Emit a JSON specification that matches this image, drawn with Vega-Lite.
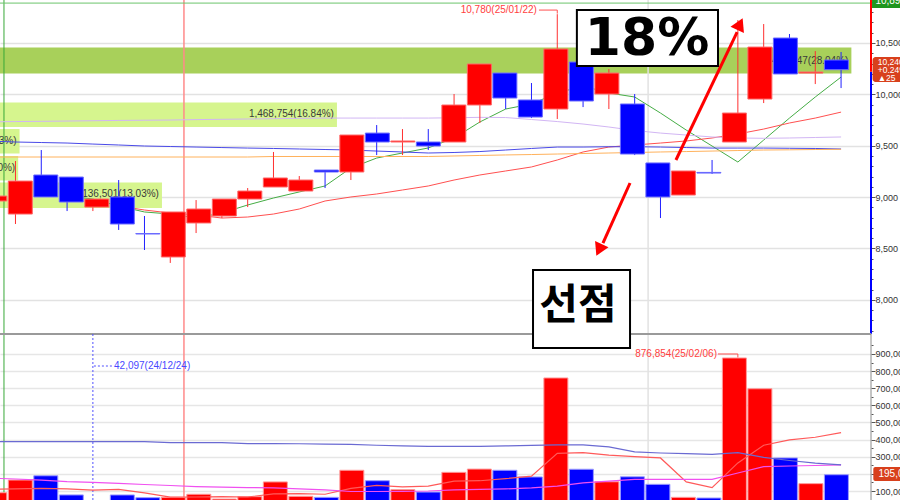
{
"$schema": "https://vega.github.io/schema/vega-lite/v6.json",
"width": 871, "height": 500,
"autosize": "none",
"padding": {"left": 0, "top": 0, "right": 29, "bottom": 0},
"background": "white",
"config": {"view": {"stroke": null}, "font": "Liberation Sans"},
"datasets": {
"candles": [
{"i":0,"o":8962,"h":9010,"l":8962,"c":9010,"v":90000},
{"i":1,"o":8835,"h":9351,"l":8738,"c":9156,"v":164000},
{"i":2,"o":9215,"h":9458,"l":9001,"c":9001,"v":189000},
{"i":3,"o":9195,"h":9195,"l":8864,"c":8952,"v":77000},
{"i":4,"o":8903,"h":8981,"l":8864,"c":8981,"v":42097},
{"i":5,"o":9001,"h":9166,"l":8680,"c":8738,"v":77000},
{"i":6,"o":8645,"h":8816,"l":8485,"c":8641,"v":61000},
{"i":7,"o":8417,"h":8855,"l":8359,"c":8855,"v":63000},
{"i":8,"o":8748,"h":8971,"l":8650,"c":8884,"v":81000},
{"i":9,"o":8816,"h":8981,"l":8796,"c":8981,"v":53000},
{"i":10,"o":8981,"h":9088,"l":8903,"c":9059,"v":67000},
{"i":11,"o":9098,"h":9439,"l":9098,"c":9186,"v":153000},
{"i":12,"o":9059,"h":9205,"l":9059,"c":9166,"v":69000},
{"i":13,"o":9263,"h":9263,"l":9088,"c":9244,"v":63000},
{"i":14,"o":9244,"h":9604,"l":9166,"c":9604,"v":221000},
{"i":15,"o":9623,"h":9701,"l":9409,"c":9536,"v":160000},
{"i":16,"o":9536,"h":9662,"l":9409,"c":9546,"v":108000},
{"i":17,"o":9536,"h":9662,"l":9458,"c":9497,"v":94000},
{"i":18,"o":9536,"h":10003,"l":9536,"c":9896,"v":209000},
{"i":19,"o":9896,"h":10295,"l":9721,"c":10295,"v":228000},
{"i":20,"o":10207,"h":10207,"l":9857,"c":9964,"v":221000},
{"i":21,"o":9945,"h":10110,"l":9769,"c":9779,"v":182000},
{"i":22,"o":9857,"h":10780,"l":9760,"c":10441,"v":760000},
{"i":23,"o":10314,"h":10360,"l":9876,"c":9935,"v":227000},
{"i":24,"o":10003,"h":10246,"l":9857,"c":10207,"v":154000},
{"i":25,"o":9906,"h":10003,"l":9409,"c":9419,"v":183000},
{"i":26,"o":9332,"h":9332,"l":8796,"c":9001,"v":139000},
{"i":27,"o":9020,"h":9254,"l":9020,"c":9254,"v":63000},
{"i":28,"o":9240,"h":9361,"l":9225,"c":9234,"v":59000},
{"i":29,"o":9536,"h":10723,"l":9536,"c":9818,"v":876854},
{"i":30,"o":9954,"h":10684,"l":9915,"c":10460,"v":697000},
{"i":31,"o":10548,"h":10587,"l":10198,"c":10198,"v":293000},
{"i":32,"o":10207,"h":10421,"l":10100,"c":10217,"v":143000},
{"i":33,"o":10334,"h":10412,"l":10061,"c":10240,"v":195000}
],
"pma": [
{"i":3,"s":"ma5","p":9010},{"i":4,"s":"ma5","p":8981},{"i":5,"s":"ma5","p":8913},{"i":6,"s":"ma5","p":8855},{"i":7,"s":"ma5","p":8835},{"i":8,"s":"ma5","p":8796},{"i":9,"s":"ma5","p":8845},{"i":10,"s":"ma5","p":8923},{"i":11,"s":"ma5","p":8991},{"i":12,"s":"ma5","p":9050},{"i":13,"s":"ma5","p":9108},{"i":14,"s":"ma5","p":9283},{"i":15,"s":"ma5","p":9380},{"i":16,"s":"ma5","p":9429},{"i":17,"s":"ma5","p":9478},{"i":18,"s":"ma5","p":9575},{"i":19,"s":"ma5","p":9731},{"i":20,"s":"ma5","p":9857},{"i":21,"s":"ma5","p":9906},{"i":22,"s":"ma5","p":10013},{"i":23,"s":"ma5","p":10081},{"i":24,"s":"ma5","p":10013},{"i":25,"s":"ma5","p":9974},{"i":26,"s":"ma5","p":9818},{"i":27,"s":"ma5","p":9652},{"i":28,"s":"ma5","p":9497},{"i":29,"s":"ma5","p":9341},{"i":30,"s":"ma5","p":9555},{"i":31,"s":"ma5","p":9769},{"i":32,"s":"ma5","p":9974},{"i":33,"s":"ma5","p":10168},
{"i":5,"s":"ma20","p":8913},{"i":6,"s":"ma20","p":8874},{"i":7,"s":"ma20","p":8845},{"i":8,"s":"ma20","p":8826},{"i":9,"s":"ma20","p":8796},{"i":10,"s":"ma20","p":8806},{"i":11,"s":"ma20","p":8835},{"i":12,"s":"ma20","p":8884},{"i":13,"s":"ma20","p":8962},{"i":14,"s":"ma20","p":9001},{"i":15,"s":"ma20","p":9030},{"i":16,"s":"ma20","p":9069},{"i":17,"s":"ma20","p":9108},{"i":18,"s":"ma20","p":9166},{"i":19,"s":"ma20","p":9215},{"i":20,"s":"ma20","p":9254},{"i":21,"s":"ma20","p":9293},{"i":22,"s":"ma20","p":9361},{"i":23,"s":"ma20","p":9439},{"i":24,"s":"ma20","p":9487},{"i":25,"s":"ma20","p":9507},{"i":26,"s":"ma20","p":9526},{"i":27,"s":"ma20","p":9546},{"i":28,"s":"ma20","p":9575},{"i":29,"s":"ma20","p":9614},{"i":30,"s":"ma20","p":9662},{"i":31,"s":"ma20","p":9721},{"i":32,"s":"ma20","p":9769},{"i":33,"s":"ma20","p":9827},
{"i":0,"s":"ma60","p":9732},{"i":1,"s":"ma60","p":9735},{"i":2,"s":"ma60","p":9737},{"i":3,"s":"ma60","p":9740},{"i":4,"s":"ma60","p":9743},{"i":5,"s":"ma60","p":9746},{"i":6,"s":"ma60","p":9748},{"i":7,"s":"ma60","p":9750},{"i":8,"s":"ma60","p":9754},{"i":9,"s":"ma60","p":9757},{"i":10,"s":"ma60","p":9760},{"i":11,"s":"ma60","p":9763},{"i":12,"s":"ma60","p":9766},{"i":13,"s":"ma60","p":9769},{"i":14,"s":"ma60","p":9769},{"i":15,"s":"ma60","p":9769},{"i":16,"s":"ma60","p":9769},{"i":17,"s":"ma60","p":9769},{"i":18,"s":"ma60","p":9772},{"i":19,"s":"ma60","p":9776},{"i":20,"s":"ma60","p":9774},{"i":21,"s":"ma60","p":9755},{"i":22,"s":"ma60","p":9735},{"i":23,"s":"ma60","p":9711},{"i":24,"s":"ma60","p":9682},{"i":25,"s":"ma60","p":9648},{"i":26,"s":"ma60","p":9623},{"i":27,"s":"ma60","p":9604},{"i":28,"s":"ma60","p":9585},{"i":29,"s":"ma60","p":9575},{"i":30,"s":"ma60","p":9572},{"i":31,"s":"ma60","p":9575},{"i":32,"s":"ma60","p":9580},{"i":33,"s":"ma60","p":9585},
{"i":0,"s":"ma120","p":9545},{"i":1,"s":"ma120","p":9536},{"i":2,"s":"ma120","p":9531},{"i":3,"s":"ma120","p":9526},{"i":4,"s":"ma120","p":9516},{"i":5,"s":"ma120","p":9507},{"i":6,"s":"ma120","p":9497},{"i":7,"s":"ma120","p":9492},{"i":8,"s":"ma120","p":9487},{"i":9,"s":"ma120","p":9482},{"i":10,"s":"ma120","p":9477},{"i":11,"s":"ma120","p":9473},{"i":12,"s":"ma120","p":9468},{"i":13,"s":"ma120","p":9463},{"i":14,"s":"ma120","p":9458},{"i":15,"s":"ma120","p":9448},{"i":16,"s":"ma120","p":9439},{"i":17,"s":"ma120","p":9429},{"i":18,"s":"ma120","p":9434},{"i":19,"s":"ma120","p":9443},{"i":20,"s":"ma120","p":9458},{"i":21,"s":"ma120","p":9473},{"i":22,"s":"ma120","p":9487},{"i":23,"s":"ma120","p":9487},{"i":24,"s":"ma120","p":9490},{"i":25,"s":"ma120","p":9490},{"i":26,"s":"ma120","p":9487},{"i":27,"s":"ma120","p":9482},{"i":28,"s":"ma120","p":9477},{"i":29,"s":"ma120","p":9477},{"i":30,"s":"ma120","p":9477},{"i":31,"s":"ma120","p":9475},{"i":32,"s":"ma120","p":9473},{"i":33,"s":"ma120","p":9468},
{"i":0,"s":"ma240","p":9390},{"i":10,"s":"ma240","p":9390},{"i":11,"s":"ma240","p":9395},{"i":17,"s":"ma240","p":9395},{"i":18,"s":"ma240","p":9400},{"i":19,"s":"ma240","p":9405},{"i":20,"s":"ma240","p":9410},{"i":21,"s":"ma240","p":9414},{"i":22,"s":"ma240","p":9419},{"i":23,"s":"ma240","p":9424},{"i":24,"s":"ma240","p":9429},{"i":25,"s":"ma240","p":9434},{"i":26,"s":"ma240","p":9439},{"i":27,"s":"ma240","p":9443},{"i":28,"s":"ma240","p":9448},{"i":29,"s":"ma240","p":9453},{"i":30,"s":"ma240","p":9458},{"i":31,"s":"ma240","p":9460},{"i":32,"s":"ma240","p":9463},{"i":33,"s":"ma240","p":9465}
],
"vma": [
{"i":0,"s":"v5","v":110000},{"i":1,"s":"v5","v":112000},{"i":2,"s":"v5","v":115000},{"i":3,"s":"v5","v":112000},{"i":4,"s":"v5","v":105000},{"i":5,"s":"v5","v":110000},{"i":6,"s":"v5","v":89000},{"i":7,"s":"v5","v":64000},{"i":8,"s":"v5","v":65000},{"i":9,"s":"v5","v":67000},{"i":10,"s":"v5","v":65000},{"i":11,"s":"v5","v":83000},{"i":12,"s":"v5","v":85000},{"i":13,"s":"v5","v":81000},{"i":14,"s":"v5","v":115000},{"i":15,"s":"v5","v":133000},{"i":16,"s":"v5","v":124000},{"i":17,"s":"v5","v":129000},{"i":18,"s":"v5","v":158000},{"i":19,"s":"v5","v":160000},{"i":20,"s":"v5","v":172000},{"i":21,"s":"v5","v":187000},{"i":22,"s":"v5","v":320000},{"i":23,"s":"v5","v":324000},{"i":24,"s":"v5","v":309000},{"i":25,"s":"v5","v":301000},{"i":26,"s":"v5","v":293000},{"i":27,"s":"v5","v":153000},{"i":28,"s":"v5","v":120000},{"i":29,"s":"v5","v":264000},{"i":30,"s":"v5","v":367000},{"i":31,"s":"v5","v":398000},{"i":32,"s":"v5","v":414000},{"i":33,"s":"v5","v":441000},
{"i":0,"s":"v20","v":175000},{"i":1,"s":"v20","v":170000},{"i":2,"s":"v20","v":164000},{"i":3,"s":"v20","v":155000},{"i":4,"s":"v20","v":150000},{"i":5,"s":"v20","v":144000},{"i":6,"s":"v20","v":138000},{"i":7,"s":"v20","v":132000},{"i":8,"s":"v20","v":126000},{"i":9,"s":"v20","v":123000},{"i":10,"s":"v20","v":120000},{"i":11,"s":"v20","v":118000},{"i":12,"s":"v20","v":112000},{"i":13,"s":"v20","v":106000},{"i":14,"s":"v20","v":97000},{"i":15,"s":"v20","v":97000},{"i":16,"s":"v20","v":98000},{"i":17,"s":"v20","v":100000},{"i":18,"s":"v20","v":106000},{"i":19,"s":"v20","v":109000},{"i":20,"s":"v20","v":112000},{"i":21,"s":"v20","v":118000},{"i":22,"s":"v20","v":129000},{"i":23,"s":"v20","v":147000},{"i":24,"s":"v20","v":158000},{"i":25,"s":"v20","v":168000},{"i":26,"s":"v20","v":168000},{"i":27,"s":"v20","v":168000},{"i":28,"s":"v20","v":168000},{"i":29,"s":"v20","v":205000},{"i":30,"s":"v20","v":242000},{"i":31,"s":"v20","v":246000},{"i":32,"s":"v20","v":249000},{"i":33,"s":"v20","v":252000},
{"i":0,"s":"v60","v":388000},{"i":6,"s":"v60","v":388000},{"i":7,"s":"v60","v":382000},{"i":9,"s":"v60","v":382000},{"i":10,"s":"v60","v":377000},{"i":11,"s":"v60","v":377000},{"i":12,"s":"v60","v":376000},{"i":13,"s":"v60","v":374000},{"i":14,"s":"v60","v":372000},{"i":15,"s":"v60","v":367000},{"i":16,"s":"v60","v":363000},{"i":17,"s":"v60","v":360000},{"i":18,"s":"v60","v":360000},{"i":19,"s":"v60","v":361000},{"i":20,"s":"v60","v":363000},{"i":21,"s":"v60","v":366000},{"i":22,"s":"v60","v":369000},{"i":23,"s":"v60","v":369000},{"i":24,"s":"v60","v":358000},{"i":25,"s":"v60","v":329000},{"i":26,"s":"v60","v":322000},{"i":27,"s":"v60","v":318000},{"i":28,"s":"v60","v":314000},{"i":29,"s":"v60","v":324000},{"i":30,"s":"v60","v":296000},{"i":31,"s":"v60","v":278000},{"i":32,"s":"v60","v":263000},{"i":33,"s":"v60","v":252000}
],
"bands": [
{"pct":28.04,"lo":10202,"hi":10455,"mid":10327,"label":"2,445,647(28.04%)","top":true},
{"pct":16.84,"lo":9682,"hi":9920,"mid":9808,"label":"1,468,754(16.84%)","top":false},
{"pct":9.93,"lo":9424,"hi":9662,"mid":9549,"label":"866,093(9.93%)","top":false},
{"pct":9.90,"lo":9161,"hi":9400,"mid":9283,"label":"863,480(9.90%)","top":false},
{"pct":13.03,"lo":8894,"hi":9142,"mid":9030,"label":"1,136,501(13.03%)","top":false}
]
},
"resolve": {"scale": {"x": "independent", "y": "independent", "color": "independent", "fill": "independent", "stroke": "independent"}, "axis": {"x": "independent", "y": "independent"}},
"layer": [
{"data": {"name": "candles"},
 "mark": {"type": "rule", "opacity": 0},
 "encoding": {
  "x": {"field": "i", "type": "quantitative", "scale": {"domain": [0.4, 34.16], "nice": false, "zero": false}, "axis": null},
  "y": {"field": "c", "type": "quantitative", "scale": {"domain": [6052, 10918], "nice": false, "zero": false},
        "axis": {"orient": "right", "values": [8000, 8500, 9000, 9500, 10000, 10500], "format": ",d", "grid": true, "gridColor": "#e2e2e2", "gridWidth": 1.5, "domain": false, "ticks": true, "tickColor": "#555555", "tickSize": 4, "labelFont": "Liberation Sans", "labelFontSize": 9, "labelColor": "#333333", "labelPadding": 0, "title": null}}
 }},
{"data": {"name": "candles"},
 "mark": {"type": "rule", "opacity": 0},
 "encoding": {
  "x": {"field": "i", "type": "quantitative", "scale": {"domain": [0.4, 34.16], "nice": false, "zero": false}, "axis": null},
  "y": {"field": "c", "type": "quantitative", "scale": {"domain": [6052, 10918], "nice": false, "zero": false},
        "axis": {"orient": "right", "values": [7700,7800,7900,8100,8200,8300,8400,8600,8700,8800,8900,9100,9200,9300,9400,9600,9700,9800,9900,10100,10200,10300,10400,10600,10700,10800,10900], "labels": false, "grid": false, "domain": false, "ticks": true, "tickColor": "#555555", "tickSize": 2, "title": null}}
 }},
{"data": {"name": "candles"},
 "mark": {"type": "rule", "opacity": 0},
 "encoding": {
  "x": {"field": "i", "type": "quantitative", "scale": {"domain": [0.4, 34.16], "nice": false, "zero": false}, "axis": null},
  "y": {"field": "v", "type": "quantitative", "scale": {"domain": [47449, 2966949], "nice": false, "zero": false},
        "axis": {"orient": "right", "values": [100000, 200000, 300000, 400000, 500000, 600000, 700000, 800000, 900000], "format": ",d", "grid": true, "gridColor": "#e6e6e6", "gridWidth": 1.5, "domain": false, "ticks": true, "tickColor": "#555555", "tickSize": 4, "labelFont": "Liberation Sans", "labelFontSize": 9, "labelColor": "#333333", "labelPadding": 0, "title": null}}
 }},
{"data": {"name": "candles"},
 "mark": {"type": "rule", "opacity": 0},
 "encoding": {
  "x": {"field": "i", "type": "quantitative", "scale": {"domain": [0.4, 34.16], "nice": false, "zero": false}, "axis": null},
  "y": {"field": "v", "type": "quantitative", "scale": {"domain": [47449, 2966949], "nice": false, "zero": false},
        "axis": {"orient": "right", "values": [50000, 150000, 250000, 350000, 450000, 550000, 650000, 750000, 850000, 950000], "labels": false, "grid": false, "domain": false, "ticks": true, "tickColor": "#555555", "tickSize": 2, "title": null}}
 }},
{"data": {"name": "bands"},
 "mark": {"type": "rect", "clip": true},
 "encoding": {
  "x": {"field": "pct", "type": "quantitative", "scale": {"domain": [9.504, 28.467], "nice": false, "zero": false}, "axis": null},
  "x2": {"datum": 0},
  "y": {"field": "lo", "type": "quantitative", "scale": {"domain": [6052, 10918], "nice": false, "zero": false}, "axis": null},
  "y2": {"field": "hi"},
  "fill": {"condition": {"test": "datum.top", "value": "#a8d05a"}, "value": "#d6f58e"}
 }},
{"data": {"name": "bands"},
 "mark": {"type": "text", "clip": true, "align": "right", "baseline": "middle", "dx": -3, "fontSize": 10, "font": "Liberation Sans", "color": "#3a3a3a"},
 "encoding": {
  "x": {"field": "pct", "type": "quantitative", "scale": {"domain": [9.504, 28.467], "nice": false, "zero": false}, "axis": null},
  "y": {"field": "mid", "type": "quantitative", "scale": {"domain": [6052, 10918], "nice": false, "zero": false}, "axis": null},
  "text": {"field": "label"}
 }},
{"data": {"values": [{}]},
 "mark": {"type": "rule", "color": "#38a838", "strokeWidth": 1},
 "encoding": {"x": {"datum": 0.554, "scale": {"domain": [0.4, 34.16], "nice": false, "zero": false}, "axis": null}}},
{"data": {"values": [{}]},
 "mark": {"type": "rule", "color": "#ff8a8a", "strokeWidth": 1.5},
 "encoding": {"x": {"datum": 7.53, "scale": {"domain": [0.4, 34.16], "nice": false, "zero": false}, "axis": null}}},
{"data": {"values": [{}]},
 "mark": {"type": "rule", "color": "#e2e2e2", "strokeWidth": 1.5},
 "encoding": {"x": {"datum": 25.52, "scale": {"domain": [0.4, 34.16], "nice": false, "zero": false}, "axis": null}}},
{"data": {"values": [{}]},
 "mark": {"type": "rule", "color": "#6cc46c", "strokeWidth": 1},
 "encoding": {"y": {"datum": 10888, "scale": {"domain": [6052, 10918], "nice": false, "zero": false}, "axis": null}}},
{"data": {"name": "pma"},
 "mark": {"type": "line", "strokeWidth": 1, "clip": true},
 "encoding": {
  "x": {"field": "i", "type": "quantitative", "scale": {"domain": [0.4, 34.16], "nice": false, "zero": false}, "axis": null},
  "y": {"field": "p", "type": "quantitative", "scale": {"domain": [6052, 10918], "nice": false, "zero": false}, "axis": null},
  "color": {"field": "s", "type": "nominal", "scale": {"domain": ["ma240", "ma120", "ma60", "ma20", "ma5"], "range": ["#ffb25c", "#4a4ae8", "#d2b6f4", "#ff5050", "#45ad45"]}, "legend": null},
  "order": {"field": "i"}
 }},
{"data": {"name": "candles"},
 "mark": {"type": "rule", "strokeWidth": 1, "clip": true},
 "encoding": {
  "x": {"field": "i", "type": "quantitative", "scale": {"domain": [0.4, 34.16], "nice": false, "zero": false}, "axis": null},
  "y": {"field": "l", "type": "quantitative", "scale": {"domain": [6052, 10918], "nice": false, "zero": false}, "axis": null},
  "y2": {"field": "h"},
  "color": {"condition": {"test": "datum.c >= datum.o", "value": "#ff3030"}, "value": "#2020ff"}
 }},
{"data": {"name": "candles"},
 "mark": {"type": "bar", "size": 24, "strokeWidth": 1, "clip": true, "orient": "vertical"},
 "encoding": {
  "x": {"field": "i", "type": "quantitative", "scale": {"domain": [0.4, 34.16], "nice": false, "zero": false}, "axis": null},
  "y": {"field": "o", "type": "quantitative", "scale": {"domain": [6052, 10918], "nice": false, "zero": false}, "axis": null},
  "y2": {"field": "c"},
  "fill": {"condition": {"test": "datum.c >= datum.o", "value": "#ff0000"}, "value": "#0000ff"},
  "stroke": {"condition": {"test": "datum.c >= datum.o", "value": "#ff6868"}, "value": "#6a6aff"}
 }},
{"data": {"values": [{}]},
 "mark": {"type": "rule", "color": "#0000ff", "strokeWidth": 2},
 "encoding": {"x": {"datum": 34.16, "scale": {"domain": [0.4, 34.16], "nice": false, "zero": false}, "axis": null},
  "y": {"datum": 7670, "scale": {"domain": [6052, 10918], "nice": false, "zero": false}, "axis": null}, "y2": {"datum": 10220}}},
{"data": {"values": [{}]},
 "mark": {"type": "rule", "color": "#ff0000", "strokeWidth": 2},
 "encoding": {"x": {"datum": 34.16, "scale": {"domain": [0.4, 34.16], "nice": false, "zero": false}, "axis": null},
  "y": {"datum": 10220, "scale": {"domain": [6052, 10918], "nice": false, "zero": false}, "axis": null}, "y2": {"datum": 10918}}},
{"data": {"values": [{}]},
 "mark": {"type": "rule", "color": "#9a9a9a", "strokeWidth": 2},
 "encoding": {"y": {"datum": 1016700, "scale": {"domain": [47449, 2966949], "nice": false, "zero": false}, "axis": null}}},
{"data": {"values": [{}]},
 "mark": {"type": "rule", "color": "#8a8a8a", "strokeWidth": 1},
 "encoding": {"x": {"datum": 34.16, "scale": {"domain": [0.4, 34.16], "nice": false, "zero": false}, "axis": null},
  "y": {"datum": 47449, "scale": {"domain": [47449, 2966949], "nice": false, "zero": false}, "axis": null}, "y2": {"datum": 1016700}}},
{"data": {"values": [{}]},
 "mark": {"type": "rule", "color": "#5050ff", "strokeWidth": 1, "strokeDash": [2, 2]},
 "encoding": {"x": {"datum": 4, "scale": {"domain": [0.4, 34.16], "nice": false, "zero": false}, "axis": null},
  "y": {"datum": 47449, "scale": {"domain": [47449, 2966949], "nice": false, "zero": false}, "axis": null}, "y2": {"datum": 1016700}}},
{"data": {"values": [{}]},
 "mark": {"type": "rule", "color": "#5050ff", "strokeWidth": 1, "strokeDash": [2, 2]},
 "encoding": {"x": {"datum": 4.04, "scale": {"domain": [0.4, 34.16], "nice": false, "zero": false}, "axis": null}, "x2": {"datum": 4.78},
  "y": {"datum": 829875, "scale": {"domain": [47449, 2966949], "nice": false, "zero": false}, "axis": null}}},
{"data": {"values": [{}]},
 "mark": {"type": "text", "align": "left", "baseline": "middle", "fontSize": 10, "font": "Liberation Sans", "color": "#4848ff"},
 "encoding": {"x": {"datum": 4.82, "scale": {"domain": [0.4, 34.16], "nice": false, "zero": false}, "axis": null},
  "y": {"datum": 829875, "scale": {"domain": [47449, 2966949], "nice": false, "zero": false}, "axis": null},
  "text": {"value": "42,097(24/12/24)"}}},
{"data": {"name": "candles"},
 "mark": {"type": "bar", "size": 24, "strokeWidth": 1, "clip": true, "orient": "vertical"},
 "encoding": {
  "x": {"field": "i", "type": "quantitative", "scale": {"domain": [0.4, 34.16], "nice": false, "zero": false}, "axis": null},
  "y": {"field": "v", "type": "quantitative", "scale": {"domain": [47449, 2966949], "nice": false, "zero": false}, "axis": null},
  "y2": {"datum": 0},
  "fill": {"condition": {"test": "datum.c >= datum.o", "value": "#ff0000"}, "value": "#0000ff"},
  "stroke": {"condition": {"test": "datum.c >= datum.o", "value": "#ff9a9a"}, "value": "#9a9aff"}
 }},
{"data": {"name": "vma"},
 "mark": {"type": "line", "strokeWidth": 1.2, "clip": true},
 "encoding": {
  "x": {"field": "i", "type": "quantitative", "scale": {"domain": [0.4, 34.16], "nice": false, "zero": false}, "axis": null},
  "y": {"field": "v", "type": "quantitative", "scale": {"domain": [47449, 2966949], "nice": false, "zero": false}, "axis": null},
  "color": {"field": "s", "type": "nominal", "scale": {"domain": ["v60", "v20", "v5"], "range": ["#6a6ad2", "#f050f0", "#ff5a5a"]}, "legend": null},
  "order": {"field": "i"}
 }},
{"data": {"values": [{}]},
 "mark": {"type": "rule", "color": "#ff5050", "strokeWidth": 1},
 "encoding": {"x": {"datum": 28.23, "scale": {"domain": [0.4, 34.16], "nice": false, "zero": false}, "axis": null}, "x2": {"datum": 29},
  "y": {"datum": 900000, "scale": {"domain": [47449, 2966949], "nice": false, "zero": false}, "axis": null}}},
{"data": {"values": [{}]},
 "mark": {"type": "rule", "color": "#ff5050", "strokeWidth": 1},
 "encoding": {"x": {"datum": 29, "scale": {"domain": [0.4, 34.16], "nice": false, "zero": false}, "axis": null},
  "y": {"datum": 900000, "scale": {"domain": [47449, 2966949], "nice": false, "zero": false}, "axis": null}, "y2": {"datum": 880000}}},
{"data": {"values": [{}]},
 "mark": {"type": "text", "align": "right", "baseline": "middle", "fontSize": 10, "font": "Liberation Sans", "color": "#ff4040"},
 "encoding": {"x": {"datum": 28.19, "scale": {"domain": [0.4, 34.16], "nice": false, "zero": false}, "axis": null},
  "y": {"datum": 900000, "scale": {"domain": [47449, 2966949], "nice": false, "zero": false}, "axis": null},
  "text": {"value": "876,854(25/02/06)"}}},
{"data": {"values": [{}]},
 "mark": {"type": "rect", "color": "#d8401c", "cornerRadius": 2},
 "encoding": {"x": {"datum": 34.25, "scale": {"domain": [0.4, 34.16], "nice": false, "zero": false}, "axis": null}, "x2": {"datum": 35.6},
  "y": {"datum": 240136, "scale": {"domain": [47449, 2966949], "nice": false, "zero": false}, "axis": null}, "y2": {"datum": 158390}}},
{"data": {"values": [{}]},
 "mark": {"type": "text", "align": "left", "baseline": "middle", "fontSize": 10, "font": "Liberation Sans", "color": "white"},
 "encoding": {"x": {"datum": 34.45, "scale": {"domain": [0.4, 34.16], "nice": false, "zero": false}, "axis": null},
  "y": {"datum": 199000, "scale": {"domain": [47449, 2966949], "nice": false, "zero": false}, "axis": null},
  "text": {"value": "195,012"}}},
{"data": {"values": [{}]},
 "mark": {"type": "rect", "fill": "white", "stroke": "black", "strokeWidth": 2},
 "encoding": {"x": {"datum": 22.76, "scale": {"domain": [0.4, 34.16], "nice": false, "zero": false}, "axis": null}, "x2": {"datum": 28.23},
  "y": {"datum": 10820, "scale": {"domain": [6052, 10918], "nice": false, "zero": false}, "axis": null}, "y2": {"datum": 10275}}},
{"data": {"values": [{}]},
 "mark": {"type": "text", "align": "center", "baseline": "middle", "fontSize": 52, "fontWeight": "bold", "font": "DejaVu Sans", "color": "black"},
 "encoding": {"x": {"datum": 25.48, "scale": {"domain": [0.4, 34.16], "nice": false, "zero": false}, "axis": null},
  "y": {"datum": 10543, "scale": {"domain": [6052, 10918], "nice": false, "zero": false}, "axis": null},
  "text": {"value": "18%"}}},
{"data": {"values": [{}]},
 "mark": {"type": "rect", "fill": "white", "stroke": "black", "strokeWidth": 2},
 "encoding": {"x": {"datum": 21.06, "scale": {"domain": [0.4, 34.16], "nice": false, "zero": false}, "axis": null}, "x2": {"datum": 24.82},
  "y": {"datum": 8290, "scale": {"domain": [6052, 10918], "nice": false, "zero": false}, "axis": null}, "y2": {"datum": 7531}}},
{"data": {"values": [{}]},
 "mark": {"type": "text", "align": "center", "baseline": "middle", "fontSize": 42, "fontWeight": "bold", "font": "Noto Sans CJK KR", "color": "black"},
 "encoding": {"x": {"datum": 22.8, "scale": {"domain": [0.4, 34.16], "nice": false, "zero": false}, "axis": null},
  "y": {"datum": 7941, "scale": {"domain": [6052, 10918], "nice": false, "zero": false}, "axis": null},
  "text": {"value": "선점"}}},
{"data": {"values": [{}]},
 "mark": {"type": "rule", "color": "#ff0000", "strokeWidth": 3},
 "encoding": {"x": {"datum": 26.6, "scale": {"domain": [0.4, 34.16], "nice": false, "zero": false}, "axis": null}, "x2": {"datum": 28.97},
  "y": {"datum": 9361, "scale": {"domain": [6052, 10918], "nice": false, "zero": false}, "axis": null}, "y2": {"datum": 10606}}},
{"data": {"values": [{}]},
 "mark": {"type": "point", "shape": "triangle-up", "filled": true, "size": 220, "angle": 25, "color": "#ff0000", "opacity": 1},
 "encoding": {"x": {"datum": 29.08, "scale": {"domain": [0.4, 34.16], "nice": false, "zero": false}, "axis": null},
  "y": {"datum": 10684, "scale": {"domain": [6052, 10918], "nice": false, "zero": false}, "axis": null}}},
{"data": {"values": [{}]},
 "mark": {"type": "rule", "color": "#ff0000", "strokeWidth": 3},
 "encoding": {"x": {"datum": 24.82, "scale": {"domain": [0.4, 34.16], "nice": false, "zero": false}, "axis": null}, "x2": {"datum": 23.77},
  "y": {"datum": 9137, "scale": {"domain": [6052, 10918], "nice": false, "zero": false}, "axis": null}, "y2": {"datum": 8553}}},
{"data": {"values": [{}]},
 "mark": {"type": "point", "shape": "triangle-down", "filled": true, "size": 220, "angle": 25, "color": "#ff0000", "opacity": 1},
 "encoding": {"x": {"datum": 23.62, "scale": {"domain": [0.4, 34.16], "nice": false, "zero": false}, "axis": null},
  "y": {"datum": 8485, "scale": {"domain": [6052, 10918], "nice": false, "zero": false}, "axis": null}}},
{"data": {"values": [{}]},
 "mark": {"type": "text", "align": "right", "baseline": "middle", "fontSize": 10, "font": "Liberation Sans", "color": "#ff4040"},
 "encoding": {"x": {"datum": 21.21, "scale": {"domain": [0.4, 34.16], "nice": false, "zero": false}, "axis": null},
  "y": {"datum": 10820, "scale": {"domain": [6052, 10918], "nice": false, "zero": false}, "axis": null},
  "text": {"value": "10,780(25/01/22)"}}},
{"data": {"values": [{}]},
 "mark": {"type": "rule", "color": "#ff5050", "strokeWidth": 1},
 "encoding": {"x": {"datum": 21.29, "scale": {"domain": [0.4, 34.16], "nice": false, "zero": false}, "axis": null}, "x2": {"datum": 22},
  "y": {"datum": 10820, "scale": {"domain": [6052, 10918], "nice": false, "zero": false}, "axis": null}}},
{"data": {"values": [{}]},
 "mark": {"type": "rule", "color": "#ff5050", "strokeWidth": 1},
 "encoding": {"x": {"datum": 22, "scale": {"domain": [0.4, 34.16], "nice": false, "zero": false}, "axis": null},
  "y": {"datum": 10820, "scale": {"domain": [6052, 10918], "nice": false, "zero": false}, "axis": null}, "y2": {"datum": 10786}}},
{"data": {"values": [{}]},
 "mark": {"type": "rect", "color": "#1e961e"},
 "encoding": {"x": {"datum": 34.2, "scale": {"domain": [0.4, 34.16], "nice": false, "zero": false}, "axis": null}, "x2": {"datum": 35.6},
  "y": {"datum": 10960, "scale": {"domain": [6052, 10918], "nice": false, "zero": false}, "axis": null}, "y2": {"datum": 10840}}},
{"data": {"values": [{}]},
 "mark": {"type": "text", "align": "left", "baseline": "middle", "fontSize": 10, "font": "Liberation Sans", "color": "white"},
 "encoding": {"x": {"datum": 34.33, "scale": {"domain": [0.4, 34.16], "nice": false, "zero": false}, "axis": null},
  "y": {"datum": 10905, "scale": {"domain": [6052, 10918], "nice": false, "zero": false}, "axis": null},
  "text": {"value": "10,890"}}},
{"data": {"values": [{}]},
 "mark": {"type": "rect", "color": "#d8401c", "cornerRadius": 3},
 "encoding": {"x": {"datum": 34.22, "scale": {"domain": [0.4, 34.16], "nice": false, "zero": false}, "axis": null}, "x2": {"datum": 35.6},
  "y": {"datum": 10363, "scale": {"domain": [6052, 10918], "nice": false, "zero": false}, "axis": null}, "y2": {"datum": 10120}}},
{"data": {"values": [{"t": "10,240", "p": 10318}, {"t": "+0.24%", "p": 10240}, {"t": "▲25", "p": 10162}]},
 "mark": {"type": "text", "align": "left", "baseline": "middle", "fontSize": 8.5, "font": "Liberation Sans", "color": "white"},
 "encoding": {"x": {"datum": 34.42, "scale": {"domain": [0.4, 34.16], "nice": false, "zero": false}, "axis": null},
  "y": {"field": "p", "type": "quantitative", "scale": {"domain": [6052, 10918], "nice": false, "zero": false}, "axis": null},
  "text": {"field": "t"}}}
]
}
